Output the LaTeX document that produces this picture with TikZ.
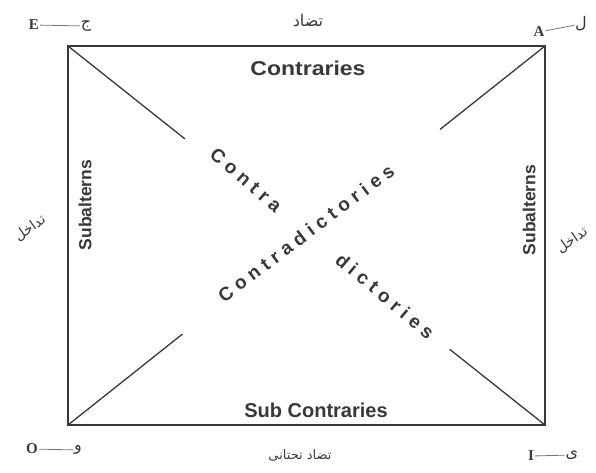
\documentclass[tikz,border=0pt]{standalone}
\usepackage{fontspec}
\setmainfont{Liberation Sans}
\newfontfamily\cornerfont{Liberation Serif}
\newfontfamily\arabicfont[Script=Arabic]{DejaVu Sans}
\newfontfamily\spacedfont[LetterSpace=28]{Liberation Sans Bold}
\TeXXeTstate=1
\usetikzlibrary{calc}
\definecolor{ink}{gray}{0.22}
\tikzset{
  edge/.style={draw=ink, line width=1.8pt},
  diag/.style={draw=ink, line width=1.3pt},
  latin/.style={text=ink, inner sep=0pt, font=\fontsize{20}{22}\selectfont\bfseries},
  side/.style={text=ink, inner sep=0pt, font=\fontsize{17.5}{20}\selectfont\bfseries},
  diagtext/.style={text=ink, inner sep=0pt, font=\spacedfont\fontsize{19}{21}\selectfont},
  corner/.style={text=ink, inner sep=1pt, font=\cornerfont\fontsize{15}{17}\selectfont\bfseries},
  urdu/.style={text=ink, inner sep=1pt, font=\arabicfont\fontsize{14}{16}\selectfont},
  tick/.style={draw=ink!70, line width=0.8pt}
}
\begin{document}
\begin{tikzpicture}[x=1pt,y=-1pt]
  \useasboundingbox (0,0) rectangle (596,472);
  % 四个角
  \coordinate (E) at (68,46);
  \coordinate (A) at (545,46);
  \coordinate (I) at (545,425);
  \coordinate (O) at (68,425);
  \draw[edge] (E) -- (A) -- (I) -- (O) -- cycle;
  % 对角线（中间断开）
  \foreach \p/\q/\f in {E/I/0.245, A/O/0.22, O/A/0.24, I/E/0.2}
    \draw[diag] (\p) -- ($(\p)!\f!(\q)$);
  % 边上的名称
  \node[latin] (contr) at (308,68) {\scalebox{1.15}[1]{Contraries}};
  \node[latin] (subcontr) at (316,410) {Sub Contraries};
  \node[side, rotate=90] (subL) at (85,205) {Subalterns};
  \node[side, rotate=90] (subR) at (529,210) {Subalterns};
  % 对角线上的文字
  \node[diagtext, rotate=-41] (contra) at (246,180) {Contra};
  \node[diagtext, rotate=37] (contradict) at (306,233) {Contradictories};
  \node[diagtext, rotate=-40] (dict) at (385,296) {dictories};
  % 乌尔都语名称
  \node[urdu, font=\arabicfont\fontsize{16}{18}\selectfont] (tazad) at (308,21) {\beginR تضاد\endR};
  \node[urdu, font=\arabicfont\fontsize{13}{15}\selectfont] (tazadT) at (300,455) {\beginR تضاد تحتانی\endR};
  \node[urdu, rotate=35] (tadL) at (30,228) {\beginR تداخل\endR};
  \node[urdu, rotate=35] (tadR) at (572,240) {\beginR تداخل\endR};
  % 角上的字母
  \foreach \n/\l/\lx/\ly/\u/\ux/\uy in {E/E/34/25/ج/86/26, A/A/539/32/ل/581/24,
      O/O/32/449/و/78/450, I/I/531/456/ی/572/455} {
    \node[corner] (l\n) at (\lx,\ly) {\l};
    \node[urdu, font=\arabicfont\fontsize{16}{18}\selectfont] (u\n) at (\ux,\uy) {\beginR \u\endR};
    \draw[tick] (l\n) -- (u\n);
  }
\end{tikzpicture}
\end{document}
